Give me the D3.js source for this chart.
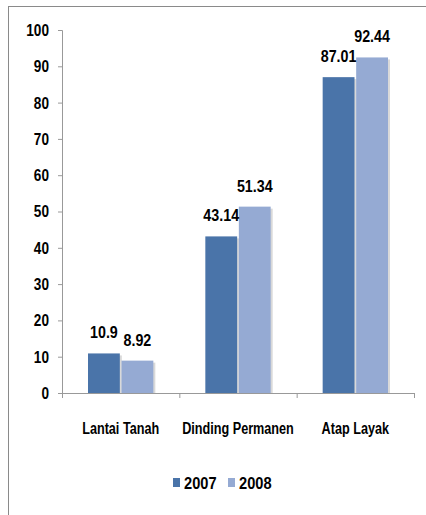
<!DOCTYPE html>
<html>
<head>
<meta charset="utf-8">
<script src="https://cdn.jsdelivr.net/npm/d3@7"></script>
<style>
  body { margin: 0; background: #fff; }
  svg text { font-family: "Liberation Sans", Arial, sans-serif; font-weight: bold; fill: #000; }
</style>
</head>
<body>
<svg id="chart" width="426" height="515"></svg>
<script>
const categories = ["Lantai Tanah", "Dinding Permanen", "Atap Layak"];
const years = ["2007", "2008"];
const values2007 = [10.9, 43.14, 87.01];
const values2008 = [8.92, 51.34, 92.44];
const labels2007 = ["10.9", "43.14", "87.01"];
const labels2008 = ["8.92", "51.34", "92.44"];
const yTicks = [0, 10, 20, 30, 40, 50, 60, 70, 80, 90, 100];

const colors = { "2007": "#4a74a9", "2008": "#95aad3" };

const data = categories.map((c, i) => ({
    cat: c,
    bars: [
        { year: "2007", v: values2007[i], label: labels2007[i] },
        { year: "2008", v: values2008[i], label: labels2008[i] }
    ]
}));

// squeeze text horizontally, the original uses a very narrow bold face
function squeeze(sel, k) {
    sel.each(function () {
        const len = this.getComputedTextLength();
        d3.select(this).attr("textLength", len * k).attr("lengthAdjust", "spacingAndGlyphs");
    });
}

const svg = d3.select("#chart");

// frame (top + left only visible)
svg.append("line").attr("x1", 8).attr("x2", 426).attr("y1", 6.5).attr("y2", 6.5)
    .attr("stroke", "#8a8a8a").attr("stroke-width", 1);
svg.append("line").attr("x1", 8.5).attr("x2", 8.5).attr("y1", 6).attr("y2", 515)
    .attr("stroke", "#8a8a8a").attr("stroke-width", 1);

const margin = { left: 62, right: 12, top: 30, bottom: 122 };
const w = 426 - margin.left - margin.right,
      h = 515 - margin.top - margin.bottom;

const g = svg.append("g").attr("transform", "translate(" + margin.left + "," + margin.top + ")");

const scaleY = d3.scaleLinear().domain([0, 100]).range([h, 0]);
const scaleX = d3.scaleBand().domain(categories).range([0, w]);
const scaleInner = d3.scaleBand().domain(years).range([26, scaleX.bandwidth() - 26]).paddingInner(0.05);

// y axis
const axisY = d3.axisLeft(scaleY).tickValues(yTicks).tickSizeOuter(0).tickSize(4).tickPadding(9);
const gy = g.append("g").call(axisY);
gy.select(".domain").attr("stroke", "#999");
gy.selectAll(".tick line").attr("stroke", "#999");
gy.selectAll("text").style("font-size", "17px").attr("fill", "#000").call(squeeze, 0.8);

// bars
const groups = g.append("g").selectAll("g")
    .data(data).enter().append("g")
    .attr("transform", d => "translate(" + scaleX(d.cat) + ",0)");

// shadow
groups.selectAll("rect.shadow")
    .data(d => d.bars).enter().append("rect")
    .attr("class", "shadow")
    .attr("x", d => scaleInner(d.year) + 2)
    .attr("y", d => scaleY(d.v) + 2)
    .attr("width", scaleInner.bandwidth())
    .attr("height", d => h - scaleY(d.v) - 2)
    .attr("fill", "#d9d9d9");

groups.selectAll("rect.bar")
    .data(d => d.bars).enter().append("rect")
    .attr("class", "bar")
    .attr("x", d => scaleInner(d.year))
    .attr("y", d => scaleY(d.v))
    .attr("width", scaleInner.bandwidth())
    .attr("height", d => h - scaleY(d.v))
    .attr("fill", d => colors[d.year]);

groups.selectAll("text")
    .data(d => d.bars).enter().append("text")
    .attr("text-anchor", "middle")
    .attr("x", d => scaleInner(d.year) + scaleInner.bandwidth() / 2)
    .attr("y", d => scaleY(d.v) - 15)
    .style("font-size", "17px")
    .text(d => d.label)
    .call(squeeze, 0.84);

// x axis
const axisX = d3.axisBottom(scaleX).tickSize(0).tickPadding(30);
const gx = g.append("g").attr("transform", "translate(0," + h + ")").call(axisX);
gx.select(".domain").attr("stroke", "#999");
gx.selectAll("text").style("font-size", "16px").call(squeeze, 0.79);
// category separators
gx.selectAll("line.sep")
    .data([0].concat(categories.map(c => scaleX(c) + scaleX.bandwidth())))
    .enter().append("line")
    .attr("class", "sep")
    .attr("x1", d => d + 0.5).attr("x2", d => d + 0.5)
    .attr("y1", 0).attr("y2", 5)
    .attr("stroke", "#999");

// legend
const legend = svg.append("g").attr("transform", "translate(0,483)");
const legendX = [173, 228];
years.forEach((y, i) => {
    legend.append("rect")
        .attr("x", legendX[i]).attr("y", -5)
        .attr("width", 7).attr("height", 9)
        .attr("fill", colors[y]);
    legend.append("text")
        .attr("x", legendX[i] + 11).attr("y", 6)
        .style("font-size", "17px")
        .text(y)
        .call(squeeze, 0.86);
});
</script>
</body>
</html>
